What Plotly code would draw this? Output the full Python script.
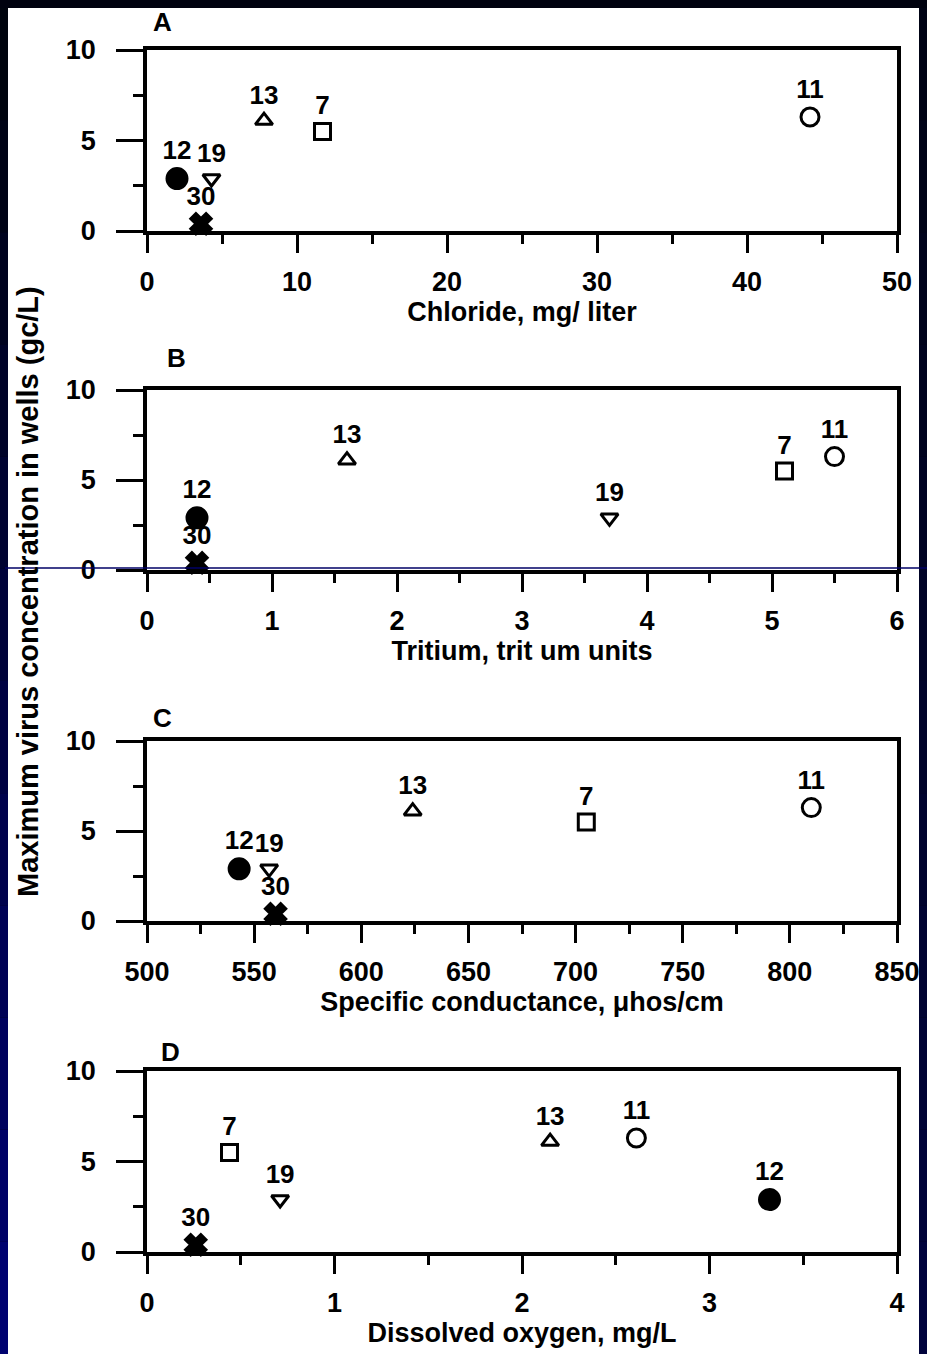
import plotly.graph_objects as go

# ---------------- data ----------------
wells = ["12", "19", "30", "13", "7", "11"]
virus_conc = [2.9, 2.9, 0.4, 6.1, 5.5, 6.3]          # gc/L
chloride = [2.0, 4.3, 3.6, 7.8, 11.7, 44.2]           # mg/L
tritium = [0.4, 3.7, 0.4, 1.6, 5.1, 5.5]              # tritium units
conductance = [543, 557, 560, 624, 705, 810]          # umhos/cm
dissolved_oxygen = [3.32, 0.71, 0.26, 2.15, 0.44, 2.61]  # mg/L

panel_letters = ["A", "B", "C", "D"]
x_titles = ["Chloride, mg/ liter", "Tritium, trit um units",
            "Specific conductance, \u03bchos/cm", "Dissolved oxygen, mg/L"]
x_ranges = [[0, 50], [0, 6], [500, 850], [0, 4]]
x_dticks = [10, 1, 50, 1]
x_minor = [5, 0.5, 25, 0.5]
y_title = "Maximum virus concentration in wells (gc/L)"

# ---------------- styling ----------------
W, H = 927, 1354
FONT = "Liberation Sans"
symbols = ["circle", "triangle-down-open", "x", "triangle-up-open", "square-open", "circle-open"]
sizes = [20, 15, 18, 15, 16, 18]

# panel pixel geometry: (top, bottom)
panels_px = [(50, 231), (390, 570), (741, 921), (1071, 1252)]
x_left, x_right = 147, 897


def py(p):
    return 1 - p / H


def px(p):
    return p / W


xs_all = [chloride, tritium, conductance, dissolved_oxygen]

fig = go.Figure()
layout_axes = {}
for i in range(4):
    n = "" if i == 0 else str(i + 1)
    fig.add_trace(go.Scatter(
        x=xs_all[i], y=virus_conc, mode="markers+text", text=wells,
        textposition="top center",
        textfont=dict(family=FONT, size=26, color="black", weight="bold"),
        marker=dict(symbol=symbols, size=sizes, color="black", opacity=1,
                    line=dict(color="black", width=3)),
        xaxis="x" + n, yaxis="y" + n, showlegend=False, cliponaxis=False,
    ))
    top, bot = panels_px[i]
    common = dict(showline=True, linecolor="black", linewidth=3.5, mirror=True,
                  ticks="outside", tickcolor="black", tickwidth=3,
                  showgrid=False, zeroline=False, automargin=False,
                  tickfont=dict(family=FONT, size=27, color="black", weight="bold"))
    layout_axes["xaxis" + n] = dict(
        common, domain=[px(x_left), px(x_right)], range=x_ranges[i],
        dtick=x_dticks[i], tick0=x_ranges[i][0], ticklen=18, anchor="y" + n,
        ticklabelstandoff=6,
        minor=dict(ticks="outside", ticklen=9, tickwidth=3, tickcolor="black",
                   dtick=x_minor[i], showgrid=False),
        title=dict(text=x_titles[i], standoff=4,
                   font=dict(family=FONT, size=27, color="black", weight="bold")),
    )
    layout_axes["yaxis" + n] = dict(
        common, domain=[py(bot), py(top)], range=[0, 10], dtick=5, ticklen=27,
        anchor="x" + n, ticklabelstandoff=15,
        minor=dict(ticks="outside", ticklen=10, tickwidth=3, tickcolor="black",
                   dtick=2.5, showgrid=False),
    )

letter_pos = [(162, 22), (176, 358), (162, 718), (170, 1052)]
annotations = []
for (lx, ly), letter in zip(letter_pos, panel_letters):
    annotations.append(dict(x=px(lx), y=py(ly), xref="paper", yref="paper",
                            text=letter, showarrow=False, xanchor="center", yanchor="middle",
                            font=dict(family=FONT, size=26, color="black", weight="bold")))
annotations.append(dict(x=px(28), y=py(592), xref="paper", yref="paper", text=y_title,
                        textangle=-90, showarrow=False, xanchor="center", yanchor="middle",
                        font=dict(family=FONT, size=29, color="black", weight="bold")))

# frame / border shapes
shapes = [dict(type="rect", xref="paper", yref="paper", x0=px(8), x1=px(919),
               y0=0, y1=py(8), fillcolor="white", line=dict(width=0), layer="below")]
n_strips = 12
for k in range(n_strips):
    t = k / (n_strips - 1)
    b = int(14 + t * (112 - 14))
    g = int(4 + t * (2 - 4))
    shapes.append(dict(type="rect", xref="paper", yref="paper", x0=0, x1=px(8),
                       y0=py(8 + (k + 1) * (H - 8) / n_strips), y1=py(8 + k * (H - 8) / n_strips),
                       fillcolor=f"rgb(0,{g},{b})", line=dict(width=0), layer="below"))
    b2 = int(20 + t * (60 - 20))
    shapes.append(dict(type="rect", xref="paper", yref="paper", x0=px(919), x1=1,
                       y0=py(8 + (k + 1) * (H - 8) / n_strips), y1=py(8 + k * (H - 8) / n_strips),
                       fillcolor=f"rgb(0,3,{b2})", line=dict(width=0), layer="below"))
shapes.append(dict(type="line", xref="paper", yref="paper", x0=px(5), x1=1,
                   y0=py(568), y1=py(568), line=dict(color="#000066", width=1.5), layer="above"))

fig.update_layout(
    width=W, height=H, margin=dict(l=0, r=0, t=0, b=0, autoexpand=False),
    paper_bgcolor="#00020f", plot_bgcolor="rgba(0,0,0,0)",
    annotations=annotations, shapes=shapes, showlegend=False,
    **layout_axes,
)

fig.write_html("out.html")
